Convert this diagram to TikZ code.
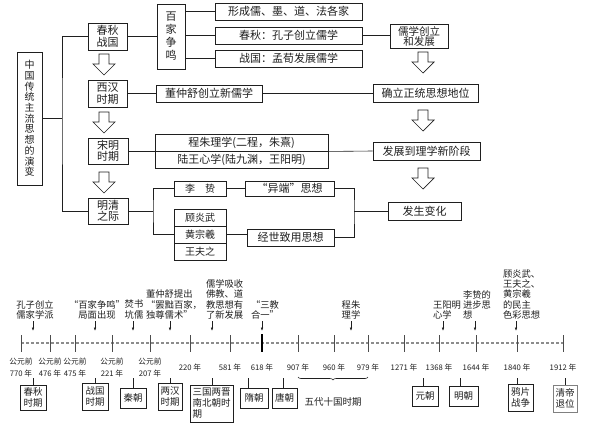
\documentclass[tikz,border=0pt]{standalone}
\usepackage{fontspec}
\setmainfont{Noto Sans CJK SC}
\usetikzlibrary{arrows.meta,decorations.pathreplacing}

\begin{document}
\begin{tikzpicture}[x=1pt, y=-1pt, color=black!88, line width=0.6pt,
		box/.style={draw, line width=0.9pt, fill=white, inner sep=0pt, align=center, font=\fontsize{11}{11.5}\selectfont},
		tbox/.style={draw, line width=0.9pt, fill=white, inner sep=1pt, align=center, font=\fontsize{9.5}{11}\selectfont},
		note/.style={align=center, inner sep=0pt, outer sep=2pt, font=\fontsize{9.3}{10.2}\selectfont},
		year/.style={align=center, inner sep=0pt, font=\fontsize{7.7}{12}\selectfont},
		tip/.style={-{Latex[length=3.5pt,width=2.6pt]}, line width=0.6pt},
		openarr/.pic={\draw[line width=0.7pt, fill=white] (-5,0) -- (5,0) -- (5,10) -- (11,10) -- (0,21) -- (-11,10) -- (-5,10) -- cycle;}]
		\useasboundingbox (0,0) rectangle (595,426);
		\node[box, minimum width=25, minimum height=133, font=\fontsize{10}{10.7}\selectfont] (zhu) at (29.5,118.5) {中\\国\\传\\统\\主\\流\\思\\想\\的\\演\\变};
		\node[box, minimum width=39, minimum height=27] (cqzg) at (107.5,36.5) {春秋\\战国};
		\node[box, minimum width=39, minimum height=27] (xhsq) at (107.5,93.5) {西汉\\时期};
		\node[box, minimum width=40, minimum height=26] (smsq) at (108,151) {宋明\\时期};
		\node[box, minimum width=40, minimum height=26] (mqzj) at (108,211) {明清\\之际};
		\node[box, minimum width=28, minimum height=65, font=\fontsize{11}{13}\selectfont] (bjzm) at (171,36.5) {百\\家\\争\\鸣};
		\node[box, minimum width=147, minimum height=17] (gjia) at (288.5,11.5) {形成儒、墨、道、法各家};
		\node[box, minimum width=147, minimum height=17] (kzi) at (288.5,35.5) {春秋：孔子创立儒学};
		\node[box, minimum width=147, minimum height=17] (mxun) at (288.5,58.5) {战国：孟荀发展儒学};
		\node[box, minimum width=58, minimum height=24, font=\fontsize{10.5}{10.5}\selectfont] (rxcl) at (419,36.5) {儒学创立\\和发展};
		\node[box, minimum width=106, minimum height=17] (dzs) at (209,93.5) {董仲舒创立新儒学};
		\node[box, minimum width=105, minimum height=18] (zttx) at (425.5,93.5) {确立正统思想地位};
		\node[box, minimum width=173, minimum height=17] (czlx) at (241.5,142.5) {程朱理学(二程，朱熹)};
		\node[box, minimum width=173, minimum height=17] (lwxx) at (241.5,159.5) {陆王心学(陆九渊，王阳明)};
		\node[box, minimum width=107, minimum height=18] (lxjd) at (426.5,151) {发展到理学新阶段};
		\node[box, minimum width=52, minimum height=15, font=\fontsize{10}{11}\selectfont] (lzhi) at (200,188.5) {李\hspace{1em}贽};
		\node[box, minimum width=89, minimum height=15] (ydsx) at (289.5,188.5) {“异端”思想};
		\node[box, minimum width=52, minimum height=17, font=\fontsize{10}{11}\selectfont] (gyw) at (200,217.5) {顾炎武};
		\node[box, minimum width=52, minimum height=17, font=\fontsize{10}{11}\selectfont] (hzx) at (200,234.5) {黄宗羲};
		\node[box, minimum width=52, minimum height=17, font=\fontsize{10}{11}\selectfont] (wfz) at (200,251.5) {王夫之};
		\node[box, minimum width=87, minimum height=17] (jszy) at (290.5,237.5) {经世致用思想};
		\node[box, minimum width=73, minimum height=18] (fsbh) at (424.5,211) {发生变化};
		\coordinate (zk) at (62,118.5);
		\coordinate (mk) at (153,211);
		\coordinate (yk) at (354,211);
		\draw (zhu.east) -- (zk);
		\draw (cqzg.west) -| (zk) |- (mqzj.west);
		\draw (cqzg.east) -- (bjzm.west);
		\draw (bjzm.east |- gjia.west) -- (gjia.west);
		\draw (bjzm.east |- kzi.west) -- (kzi.west);
		\draw (bjzm.east |- mxun.west) -- (mxun.west);
		\draw (kzi.east) -- (rxcl.west |- kzi.east);
		\draw (xhsq.east) -- (dzs.west);
		\draw (dzs.east) -- (zttx.west);
		\draw (smsq.east) -- (smsq.east -| czlx.west);
		\draw (czlx.south east) -- (lxjd.west);
		\draw (mqzj.east) -- (mk);
		\draw (lzhi.west) -| (mk) |- (hzx.west);
		\draw (lzhi.east) -- (ydsx.west);
		\draw (hzx.east) -- (hzx.east -| jszy.west);
		\draw (ydsx.east) -| (yk) |- (jszy.east);
		\draw (yk) -- (fsbh.west);
		\foreach \x/\y in {104/54, 104/112, 104/172, 423/52, 423/110, 423/168}
			\pic at (\x,\y) {openarr};
		\coordinate (al) at (0,331);
		\coordinate (cl) at (0,378);
		\foreach \n/\x in {a/21, b/50, c/75, d/112, e/150, f/190, g/230, h/262, i/298, j/334, k/368, l/404, m/439, n/476, o/517, p/563}
			\coordinate (t\n) at (\x,343);
		\draw[black!45, densely dashed, line width=1.2pt] (ta) -- (tp);
		\foreach \n in {a,b,c,d,e,f,g,i,j,k,l,m,n,o,p}
			\draw[line width=1pt, black!70] (t\n |- 0,335) -- (t\n |- 0,352);
		\draw[line width=1.8pt, black] (th |- 0,334) -- (th |- 0,352);
		\foreach \n/\t in {a/{公元前\\770 年}, b/{公元前\\476 年}, c/{公元前\\475 年}, d/{公元前\\221 年}, e/{公元前\\207 年}, f/{220 年}, g/{581 年}, h/{618 年}, i/{907 年}, j/{960 年}, k/{979 年}, l/{1271 年}, m/{1368 年}, n/{1644 年}, o/{1840 年}, p/{1912 年}}
			\node[year] (y\n) at (t\n |- 0,368) {\t};
		\node[note, anchor=south] (kzcl) at (35,321) {孔子创立\\儒家学派};
		\node[note, anchor=south] (bjcx) at (97,321) {“百家争鸣”\\局面出现};
		\node[note, anchor=south] (fsky) at (134,321) {焚书\\坑儒};
		\node[note, anchor=south, align=left] (bcrs) at (174,321) {董仲舒提出\\“罢黜百家，\\独尊儒术”};
		\node[note, anchor=south west, align=left] (rxfz) at (204,321) {儒学吸收\\佛教、道\\教思想有\\了新发展};
		\node[note, anchor=south] (sjhy) at (265,321) {“三教\\合一”};
		\node[note, anchor=south] (czlx2) at (351,321) {程朱\\理学};
		\node[note, anchor=south west, align=left] (wyxx) at (431,321) {王阳明\\心学};
		\node[note, anchor=south west, align=left] (lzsx) at (461,321) {李贽的\\进步思\\想};
		\node[note, anchor=south west, align=left] (mzsx) at (501,321) {顾炎武、\\王夫之、\\黄宗羲\\的民主\\色彩思想};
		\foreach \n/\x in {kzcl/33, bjcx/95, fsky/133, bcrs/170, rxfz/212, sjhy/262, czlx2/351, wyxx/443, lzsx/475, mzsx/516}
			\draw[tip] (\x,0 |- \n.south) -- (\x,0 |- al);
		\node[tbox, minimum width=26, minimum height=25] (cqsq) at (33,397.5) {春秋\\时期};
		\node[tbox, minimum width=26, minimum height=27] (zgsq) at (95,396.5) {战国\\时期};
		\node[tbox, minimum width=26, minimum height=20] (qin) at (133,398) {秦朝};
		\node[tbox, minimum width=24, minimum height=27] (lhsq) at (170,396.5) {两汉\\时期};
		\node[tbox, minimum width=43, minimum height=37, align=left] (sgsq) at (211.5,403.5) {三国两晋\\南北朝时\\期};
		\node[tbox, minimum width=28, minimum height=20] (sui) at (254,398) {隋朝};
		\node[tbox, minimum width=25, minimum height=20] (tang) at (284.5,398) {唐朝};
		\node[tbox, minimum width=26, minimum height=20] (yuan) at (425,396) {元朝};
		\node[tbox, minimum width=29, minimum height=20] (ming) at (463.5,396) {明朝};
		\node[tbox, minimum width=25, minimum height=27] (ypzz) at (520.5,397.5) {鸦片\\战争};
		\node[tbox, minimum width=24, minimum height=27, draw=black!50] (qdtw) at (565,398.5) {清帝\\退位};
		\foreach \n/\x in {cqsq/33, zgsq/95, qin/133, lhsq/170, sgsq/212, sui/248, tang/283, yuan/423, ming/460, ypzz/517, qdtw/565}
			\draw (\x,0 |- \n.north) -- (\x,0 |- cl);
		\draw[decorate, decoration={brace, mirror, amplitude=3pt}] (ti |- 0,377) -- (tk |- 0,377);
		\node[font=\fontsize{9.5}{11}\selectfont] (wdsg) at (333,402) {五代十国时期};
	\end{tikzpicture}
\end{document}
